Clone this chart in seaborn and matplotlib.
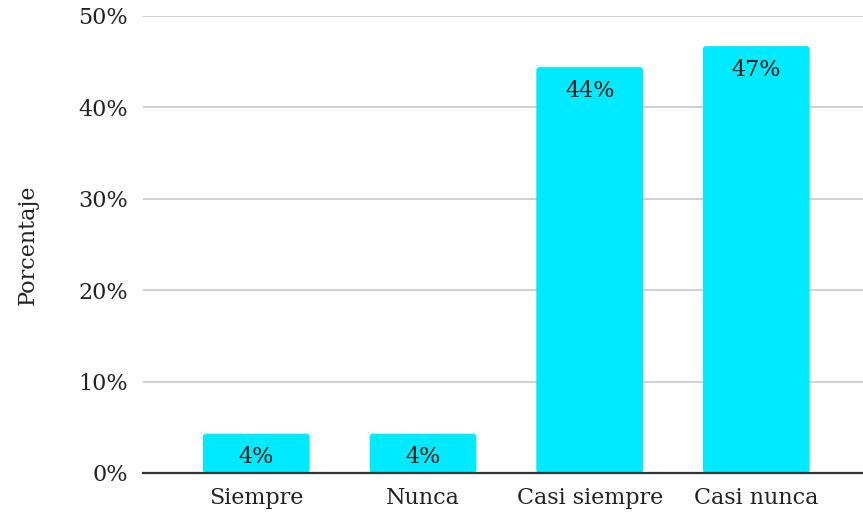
import matplotlib
matplotlib.use("Agg")
import matplotlib.pyplot as plt
import seaborn as sns
import pandas as pd
from matplotlib.patches import FancyBboxPatch

categories = ["Siempre", "Nunca", "Casi siempre", "Casi nunca"]
values = [4.3, 4.3, 44.4, 46.7]
y_ticks = [0, 10, 20, 30, 40, 50]
y_tick_labels = ["0%", "10%", "20%", "30%", "40%", "50%"]

df = pd.DataFrame({"Categoría": categories, "Porcentaje": values})

sns.set_theme(style="white")
plt.rcParams["font.family"] = ["DejaVu Serif", "Liberation Serif"]

fig = plt.figure(figsize=(8.63, 5.15), dpi=100)
ax = fig.add_axes([0.1657, 0.0816, 0.8343, 0.8874])

bar_color = "#00EAFF"
sns.barplot(data=df, x="Categoría", y="Porcentaje", color=bar_color,
            saturation=1, width=0.64, ax=ax, zorder=3)

ax.set_xlim(-0.68, 3.64)
ax.set_ylim(0, 50)

# Swap plain rectangles for ones with softly rounded corners (~3 px)
px_per_x = ax.get_position().width * fig.get_figwidth() * fig.dpi / (3.64 + 0.68)
px_per_y = ax.get_position().height * fig.get_figheight() * fig.dpi / 50
radius_px = 3.0
rx = radius_px / px_per_x
ry = radius_px / px_per_y
for patch in list(ax.patches):
    x, y = patch.get_x(), patch.get_y()
    w, h = patch.get_width(), patch.get_height()
    rounded = FancyBboxPatch((x, y), w, h,
                             boxstyle=f"round,pad=0,rounding_size={rx}",
                             mutation_aspect=ry / rx,
                             facecolor=bar_color, edgecolor="none", zorder=3)
    patch.remove()
    ax.add_patch(rounded)

ax.set_yticks(y_ticks)
ax.set_yticklabels(y_tick_labels)
ax.yaxis.grid(True, color="#cccccc", linewidth=1.3, zorder=0)
ax.set_axisbelow(True)

for side in ["top", "right", "left"]:
    ax.spines[side].set_visible(False)
ax.spines["bottom"].set_color("#333333")
ax.spines["bottom"].set_linewidth(1.6)
ax.spines["bottom"].set_zorder(4)

ax.tick_params(axis="both", length=0, labelsize=16, colors="#222222")
ax.tick_params(axis="y", pad=11)
ax.tick_params(axis="x", pad=10)
ax.set_xlabel("")
ax.set_ylabel("Porcentaje", fontsize=16, color="#222222", labelpad=28)

for i, v in enumerate(values):
    ax.annotate(f"{v:.0f}%", xy=(i, v), xytext=(0, -9), textcoords="offset points",
                ha="center", va="top", fontsize=16, color="#1a1a1a", zorder=5)

fig.savefig("out.png", dpi=100)
